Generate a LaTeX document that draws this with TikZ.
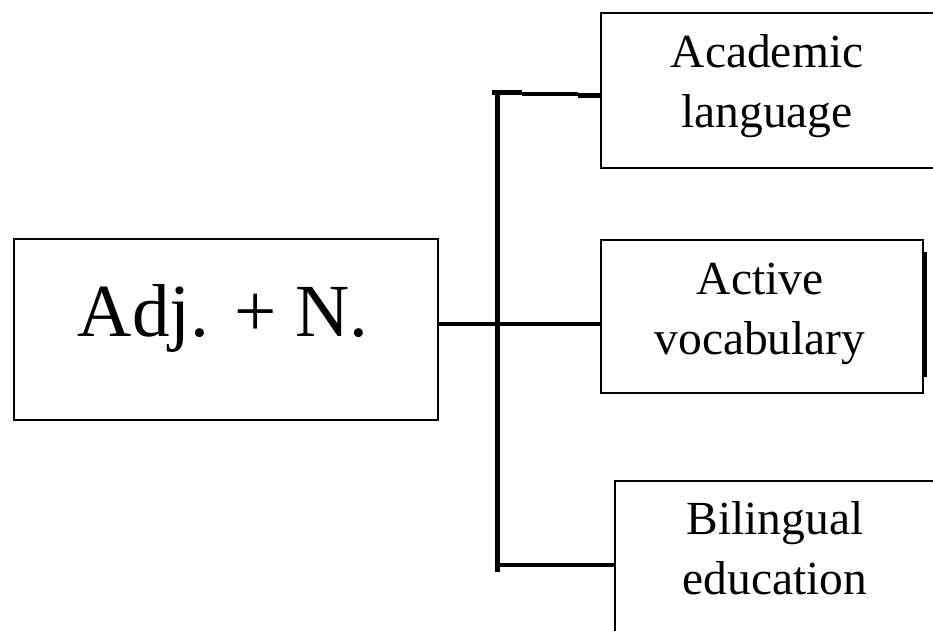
\documentclass[tikz,border=0pt]{standalone}
\usepackage{fontspec}
\setmainfont{Liberation Serif}
\begin{document}
\begin{tikzpicture}[x=1pt,y=-1pt,
  box/.style={draw, line width=2pt, inner sep=0pt, anchor=north west},
  conn/.style={line width=4.8pt},
  lbl/.style={font=\fontsize{47.5}{59.5}\selectfont, align=center, inner sep=0pt, anchor=north}]
\useasboundingbox (0,0) rectangle (933,630);
\clip (0,0) rectangle (933,630);
% boxes
\node[box, minimum width=424pt, minimum height=181pt] (adj) at (13,238) {};
\node[box, minimum width=345pt, minimum height=155pt] (acad) at (600,12) {};
\node[box, minimum width=322pt, minimum height=153pt] (act) at (600,239) {};
\node[box, minimum width=335pt, minimum height=175pt] (bil) at (614,480) {};
\fill (921.5,252) rectangle (927,377);
% labels
\node[font=\fontsize{75}{90}\selectfont, inner sep=0pt, anchor=base] (tadj) at (223,336.7) {Adj. + N.};
\node[lbl] (tacad) at (767,34.8) {Academic\\language};
\node[lbl] (tact) at (760,263) {Active\\vocabulary};
\node[lbl] (tbil) at (775,501.6) {Bilingual\\education};
% connectors
\coordinate (jt) at (497.5,90.5);
\coordinate (jb) at (497.5,572);
\coordinate (hm) at (0,324);
\coordinate (ta) at (492,92.5);
\coordinate (tb) at (522,92.5);
\coordinate (tc) at (522,94);
\coordinate (td) at (578,94);
\coordinate (te) at (578,95.5);
\coordinate (bh) at (495.5,565);
\draw[conn] (jt) -- (jb);
\draw[conn] (adj.east |- hm) -- (act.west |- hm);
\draw[conn] (ta) -- (tb);
\draw[conn] (tc) -- (td);
\draw[conn] (te) -- (acad.west |- te);
\draw[conn] (bh) -- (bil.west |- bh);
\end{tikzpicture}
\end{document}
